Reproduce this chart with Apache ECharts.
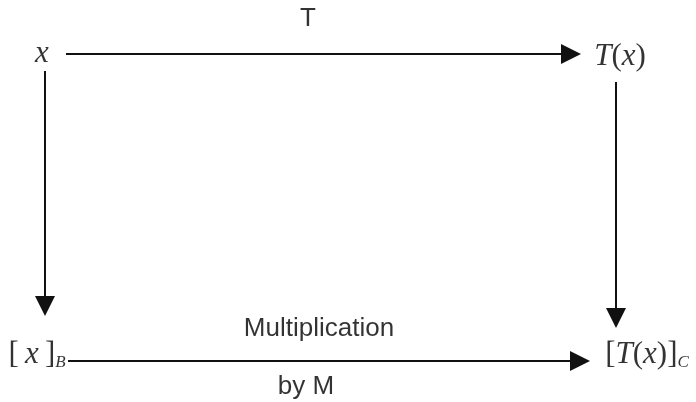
<!DOCTYPE html>
<html>
<head>
<meta charset="utf-8">
<script src="https://cdn.jsdelivr.net/npm/echarts@6/dist/echarts.min.js"></script>
<style>
  html, body { margin: 0; padding: 0; background: #fff; }
  #chart { width: 696px; height: 402px; }
</style>
</head>
<body>
<div id="chart"></div>
<script>
// nodes of the diagram (position in pixel-like units of the canvas)
const nodeNames = ["x", "Tx", "xB", "TxC"];
const nodeX = [42, 620, 37, 647];
const nodeY = [54, 57, 355, 355];
const nodeText = [
  "{i|x}",
  "{i|T}{r|(}{i|x}{r|)}",
  "{r|[\u2009}{i|x}{r|\u2009]}{s|B}",
  "{r|[}{i|T}{r|(}{i|x}{r|)]}{s|C}"
];

// arrows: start -> arrow head centre
const arrowFrom = [[66, 54], [45, 71], [616, 82], [68, 361]];
const arrowTo = [[571, 54], [45, 306], [616, 318], [580, 361]];

// arrow captions
const captionText = ["T", "Multiplication", "by M"];
const captionX = [308, 319, 306];
const captionY = [19, 329, 387];

const chart = echarts.init(document.getElementById("chart"));

const lineData = arrowFrom.map((p, i) => ({ coords: [p, arrowTo[i]] }));
const nodeData = nodeNames.map((n, i) => ({ name: n, value: [nodeX[i], nodeY[i]], label: { formatter: nodeText[i] } }));
const capData = captionText.map((t, i) => ({ name: t, value: [captionX[i], captionY[i]] }));

chart.setOption({
  animation: false,
  grid: { left: 0, right: 0, top: 0, bottom: 0 },
  xAxis: { type: "value", min: 0, max: 696, show: false },
  yAxis: { type: "value", min: 0, max: 402, inverse: true, show: false },
  series: [
    {
      type: "lines",
      coordinateSystem: "cartesian2d",
      symbol: ["none", "triangle"],
      symbolSize: [18, 20],
      lineStyle: { color: "#111", width: 2, opacity: 1 },
      data: lineData
    },
    {
      type: "scatter",
      symbolSize: 0,
      data: nodeData,
      label: {
        show: true,
        position: "inside",
        color: "#000",
        rich: {
          i: { fontFamily: "Liberation Serif", fontStyle: "italic", fontSize: 31, color: "#000" },
          r: { fontFamily: "Liberation Serif", fontSize: 31, color: "#000" },
          s: { fontFamily: "Liberation Serif", fontStyle: "italic", fontSize: 17, color: "#000", padding: [15, 0, 0, 0] }
        }
      }
    },
    {
      type: "scatter",
      symbolSize: 0,
      data: capData,
      label: {
        show: true,
        position: "inside",
        formatter: "{b}",
        fontFamily: "Liberation Sans",
        fontSize: 26,
        color: "#000"
      }
    }
  ]
});
</script>
</body>
</html>
